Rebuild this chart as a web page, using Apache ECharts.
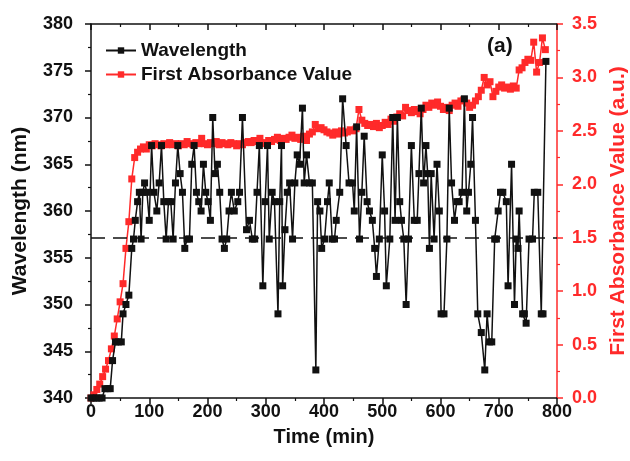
<!DOCTYPE html>
<html>
<head>
<meta charset="utf-8">
<script src="https://cdn.jsdelivr.net/npm/echarts@6/dist/echarts.min.js"></script>
<style>
html, body { margin: 0; padding: 0; background: #ffffff; }
#chart { width: 630px; height: 461px; }
</style>
</head>
<body>
<div id="chart"></div>
<script>
// Peak wavelength (nm) against time (min)
const wlTime = [0, 4, 9, 14, 19, 24, 29, 33, 37, 42, 47, 52, 55, 60, 65, 70, 73, 76, 80, 83,
  86, 89, 92, 96, 100, 104, 108, 113, 117, 121, 125, 129, 133, 137, 141, 145, 149, 153, 157, 161,
  165, 169, 173, 177, 181, 185, 189, 193, 197, 201, 205, 209, 213, 217, 221, 225, 229, 233, 237, 241,
  246, 252, 255, 260, 267, 272, 277, 281, 285, 289, 295, 299, 303, 306, 311, 315, 321, 324, 327, 329,
  333, 337, 341, 346, 350, 354, 358, 363, 366, 370, 375, 380, 386, 389, 393, 396, 401, 406, 409, 414,
  418, 421, 427, 432, 438, 443, 449, 452, 456, 461, 465, 469, 474, 478, 483, 487, 490, 495, 500, 504,
  507, 513, 518, 522, 526, 530, 533, 537, 541, 545, 550, 555, 560, 563, 567, 571, 575, 578, 581, 584,
  589, 594, 598, 601, 606, 611, 615, 619, 624, 628, 632, 637, 641, 645, 648, 652, 655, 660, 664, 670,
  676, 680, 684, 688, 693, 696, 699, 703, 707, 713, 716, 722, 727, 730, 733, 735, 741, 744, 747, 752,
  758, 761, 767, 773, 776, 781];
const wlValue = [340, 340, 340, 340, 340, 341, 341, 341, 344, 346, 346, 346, 349, 350, 351, 356, 357, 359, 361, 362,
  357, 362, 363, 362, 359, 367, 362, 360, 363, 367, 361, 357, 361, 361, 357, 363, 367, 364, 362, 356,
  357, 357, 365, 367, 362, 361, 360, 365, 362, 361, 359, 370, 364, 365, 362, 357, 356, 357, 360, 362,
  360, 361, 362, 370, 358, 359, 357, 357, 362, 367, 352, 361, 367, 357, 362, 361, 349, 361, 367, 352,
  358, 362, 363, 357, 363, 366, 365, 371, 363, 366, 363, 363, 343, 361, 360, 356, 357, 361, 363, 357,
  357, 359, 362, 372, 367, 363, 363, 360, 369, 357, 362, 368, 361, 360, 359, 356, 353, 357, 366, 360,
  352, 357, 370, 359, 370, 361, 359, 357, 350, 357, 367, 359, 359, 364, 371, 363, 367, 364, 356, 364,
  357, 365, 360, 349, 349, 357, 371, 363, 359, 361, 361, 362, 372, 360, 362, 365, 370, 359, 349, 347,
  343, 349, 346, 346, 357, 357, 360, 362, 362, 361, 352, 365, 350, 357, 356, 360, 349, 349, 348, 357,
  357, 362, 362, 349, 349, 376];

// First absorbance value (a.u.) against time (min)
const absTime = [0, 5, 10, 15, 20, 25, 30, 35, 40, 45, 50, 55, 60, 65, 70, 75, 80, 85, 90, 95,
  100, 105, 110, 115, 120, 125, 130, 135, 140, 145, 150, 155, 160, 165, 170, 175, 180, 185, 190, 195,
  200, 205, 210, 215, 220, 225, 230, 235, 240, 245, 250, 255, 260, 265, 270, 275, 280, 285, 290, 295,
  300, 305, 310, 315, 320, 325, 330, 335, 340, 345, 350, 355, 360, 365, 370, 375, 380, 385, 390, 395,
  400, 405, 410, 415, 420, 425, 430, 435, 440, 445, 450, 455, 460, 465, 470, 475, 480, 485, 490, 495,
  500, 505, 510, 515, 520, 525, 530, 535, 540, 545, 550, 555, 560, 565, 570, 575, 580, 585, 590, 595,
  600, 605, 610, 615, 620, 625, 630, 635, 640, 645, 650, 655, 660, 665, 670, 675, 680, 685, 690, 695,
  700, 705, 710, 715, 720, 725, 730, 735, 740, 745, 750, 755, 760, 765, 770, 775, 780];
const absValue = [0.00, 0.03, 0.08, 0.13, 0.20, 0.27, 0.35, 0.46, 0.58, 0.74, 0.90, 1.07, 1.40, 1.65, 2.05, 2.25, 2.30, 2.33, 2.35, 2.33,
  2.37, 2.36, 2.38, 2.37, 2.36, 2.38, 2.37, 2.39, 2.37, 2.38, 2.36, 2.38, 2.37, 2.40, 2.38, 2.37, 2.39, 2.38, 2.43, 2.38,
  2.37, 2.39, 2.38, 2.40, 2.37, 2.39, 2.38, 2.37, 2.39, 2.38, 2.36, 2.38, 2.37, 2.39, 2.40, 2.39, 2.41, 2.40, 2.43, 2.39,
  2.38, 2.41, 2.40, 2.42, 2.44, 2.41, 2.43, 2.42, 2.44, 2.46, 2.43, 2.44, 2.42, 2.45, 2.41, 2.47, 2.49, 2.56, 2.52, 2.53,
  2.51, 2.49, 2.48, 2.46, 2.49, 2.47, 2.50, 2.48, 2.49, 2.51, 2.50, 2.52, 2.70, 2.60, 2.57, 2.55, 2.56, 2.54, 2.57, 2.53,
  2.55, 2.58, 2.56, 2.61, 2.59, 2.63, 2.66, 2.64, 2.72, 2.69, 2.67, 2.70, 2.68, 2.66, 2.70, 2.74, 2.72, 2.76, 2.74, 2.77,
  2.73, 2.70, 2.72, 2.69, 2.74, 2.76, 2.73, 2.78, 2.79, 2.76, 2.72, 2.74, 2.78, 2.82, 2.88, 3.00, 2.93, 2.96, 2.82, 2.87,
  2.91, 2.93, 2.90, 2.91, 2.89, 2.92, 2.90, 3.07, 3.09, 3.14, 3.17, 3.16, 3.33, 3.05, 3.14, 3.37, 3.26];

// Dashed reference level on the absorbance axis
const refLevel = 1.5;

const FONT = '"Liberation Sans", Arial, sans-serif';
const RED = '#ff2a2a';
const INK = '#111111';

const wlData = wlTime.map((t, i) => [t, wlValue[i]]);
const absData = absTime.map((t, i) => [t, absValue[i]]);

const chart = echarts.init(document.getElementById('chart'), null, { renderer: 'canvas' });

chart.setOption({
  animation: false,
  backgroundColor: '#ffffff',
  textStyle: { fontFamily: FONT },
  grid: { left: 91, right: 73, top: 24, bottom: 63, containLabel: false, outerBoundsMode: 'none' },
  legend: {
    data: ['Wavelength', 'First Absorbance Value'],
    orient: 'vertical',
    left: 100,
    top: 36,
    itemWidth: 30,
    itemHeight: 8,
    itemGap: 5,
    textStyle: { fontFamily: FONT, fontWeight: 'bold', fontSize: 19, color: INK }
  },
  graphic: [{
    type: 'text',
    left: 487,
    top: 36,
    style: { text: '(a)', fontFamily: FONT, fontWeight: 'bold', fontSize: 21, fill: INK }
  }],
  xAxis: [{
    type: 'value',
    min: 0, max: 800, interval: 100,
    name: 'Time (min)',
    nameLocation: 'middle',
    nameGap: 29,
    nameTextStyle: { fontFamily: FONT, fontWeight: 'bold', fontSize: 20, color: INK },
    axisLine: { show: true, onZero: false, lineStyle: { color: INK, width: 1.5 } },
    axisTick: { show: true, inside: false, length: 6, lineStyle: { color: INK, width: 1.5 } },
    minorTick: { show: true, splitNumber: 2, length: 3, lineStyle: { color: INK, width: 1.2 } },
    axisLabel: { fontFamily: FONT, fontWeight: 'bold', fontSize: 18, color: INK, margin: 5 },
    splitLine: { show: false }
  }, {
    type: 'value',
    position: 'top',
    min: 0, max: 800, interval: 100,
    axisLine: { show: true, onZero: false, lineStyle: { color: INK, width: 1.5 } },
    axisTick: { show: true, inside: true, length: 6, lineStyle: { color: INK, width: 1.5 } },
    minorTick: { show: true, splitNumber: 2, length: 3, lineStyle: { color: INK, width: 1.2 } },
    axisLabel: { show: false },
    splitLine: { show: false }
  }],
  yAxis: [{
    type: 'value',
    position: 'left',
    min: 340, max: 380, interval: 5,
    name: 'Wavelength (nm)',
    nameLocation: 'middle',
    nameGap: 60,
    nameTextStyle: { fontFamily: FONT, fontWeight: 'bold', fontSize: 21, color: INK },
    axisLine: { show: true, onZero: false, lineStyle: { color: INK, width: 1.5 } },
    axisTick: { show: true, inside: false, length: 6, lineStyle: { color: INK, width: 1.5 } },
    minorTick: { show: true, splitNumber: 2, length: 3, lineStyle: { color: INK, width: 1.2 } },
    axisLabel: { fontFamily: FONT, fontWeight: 'bold', fontSize: 18, color: INK, margin: 18 },
    splitLine: { show: false }
  }, {
    type: 'value',
    position: 'right',
    min: 0, max: 3.5, interval: 0.5,
    name: 'First Absorbance Value (a.u.)',
    nameLocation: 'middle',
    nameGap: 50,
    nameRotate: 90,
    nameTextStyle: { fontFamily: FONT, fontWeight: 'bold', fontSize: 21, color: RED },
    axisLine: { show: true, onZero: false, lineStyle: { color: RED, width: 1.5 } },
    axisTick: { show: true, inside: false, length: 6, lineStyle: { color: RED, width: 1.5 } },
    minorTick: { show: true, splitNumber: 2, length: 3, lineStyle: { color: RED, width: 1.2 } },
    axisLabel: {
      fontFamily: FONT, fontWeight: 'bold', fontSize: 18, color: RED, margin: 15,
      formatter: v => v.toFixed(1)
    },
    splitLine: { show: false }
  }],
  series: [{
    name: 'First Absorbance Value',
    type: 'line',
    xAxisIndex: 0,
    yAxisIndex: 1,
    data: absData,
    symbol: 'rect',
    symbolSize: 7,
    showAllSymbol: true,
    itemStyle: { color: RED },
    lineStyle: { color: RED, width: 1.5 },
    z: 2,
    markLine: {
      silent: true,
      symbol: 'none',
      label: { show: false },
      lineStyle: { color: INK, width: 1.5, type: [14, 8] },
      data: [{ yAxis: refLevel }]
    }
  }, {
    name: 'Wavelength',
    type: 'line',
    xAxisIndex: 0,
    yAxisIndex: 0,
    data: wlData,
    symbol: 'rect',
    symbolSize: 7,
    showAllSymbol: true,
    itemStyle: { color: INK },
    lineStyle: { color: INK, width: 1.5 },
    z: 3
  }]
});
</script>
</body>
</html>
